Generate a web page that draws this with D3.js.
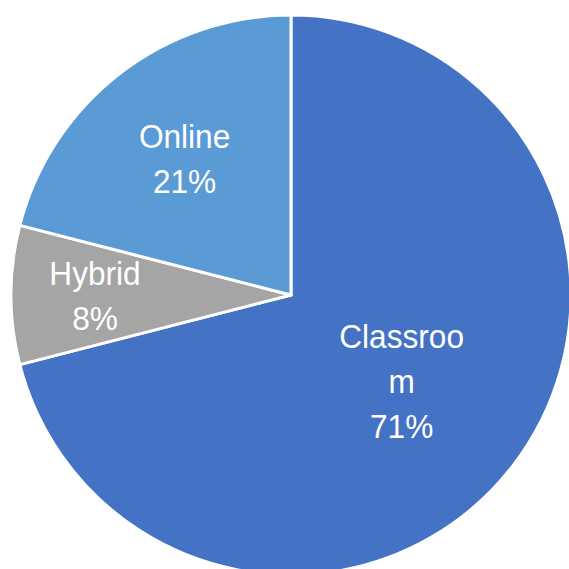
<!DOCTYPE html>
<html>
<head>
<meta charset="utf-8">
<script src="https://cdn.jsdelivr.net/npm/d3@7"></script>
<style>
  body { margin: 0; background: #fff; }
  svg { display: block; }
</style>
</head>
<body>
<div id="chart"></div>
<script>
const categories = ["Classroom", "Hybrid", "Online"];
const shares = [71, 8, 21];
const colors = ["#4472C4", "#A5A5A5", "#5B9BD5"];

const size = 569;
const cx = 291;
const cy = 295;
const radius = 280;
const fontSize = 34;
const squeeze = 0.93; // labels look a bit condensed in the original
const lineHeight = 45;
const maxLabelWidth = 132;
// how far out each label sits, as share of the radius
const labelFactor = { Classroom: 0.5, Hybrid: 0.7, Online: 0.62 };

const data = categories.map((c, i) => ({ name: c, value: shares[i], color: colors[i] }));

const svg = d3
  .select("#chart")
  .append("svg")
  .attr("width", size)
  .attr("height", size);

const g = svg.append("g").attr("transform", `translate(${cx},${cy})`);

const pie = d3.pie().sort(null).value((d) => d.value);
const arc = d3.arc().innerRadius(0).outerRadius(radius);
const arcs = pie(data);

g.selectAll("path")
  .data(arcs)
  .join("path")
  .attr("d", arc)
  .attr("fill", (d) => d.data.color)
  .attr("stroke", "#fff")
  .attr("stroke-width", 3)
  .attr("stroke-linejoin", "round");

const font = `${fontSize}px 'Liberation Sans', Arial, sans-serif`;

// break a word into lines that fit maxLabelWidth (Excel style char wrap)
const wrapText = (text) => {
  const probe = svg.append("text").style("font", font);
  const lines = [];
  let cur = "";
  for (const ch of text) {
    probe.text(cur + ch);
    if (cur && probe.node().getComputedTextLength() * squeeze > maxLabelWidth) {
      lines.push(cur);
      cur = ch;
    } else {
      cur += ch;
    }
  }
  if (cur) lines.push(cur);
  probe.remove();
  return lines;
};

g.selectAll("text.label")
  .data(arcs)
  .join("text")
  .attr("class", "label")
  .attr("text-anchor", "middle")
  .attr("fill", "#fff")
  .style("font", font)
  .each(function (d) {
    const lines = wrapText(d.data.name).concat([d.data.value + "%"]);
    const mid = (d.startAngle + d.endAngle) / 2;
    const r = radius * labelFactor[d.data.name];
    const x = Math.sin(mid) * r;
    const y = -Math.cos(mid) * r;
    const firstBaseline = -((lines.length - 1) * lineHeight) / 2 + fontSize * 0.36;
    d3.select(this)
      .attr("transform", `translate(${x},${y}) scale(${squeeze},1)`)
      .selectAll("tspan")
      .data(lines)
      .join("tspan")
      .attr("x", 0)
      .attr("y", (l, i) => firstBaseline + i * lineHeight)
      .text((l) => l);
  });
</script>
</body>
</html>
